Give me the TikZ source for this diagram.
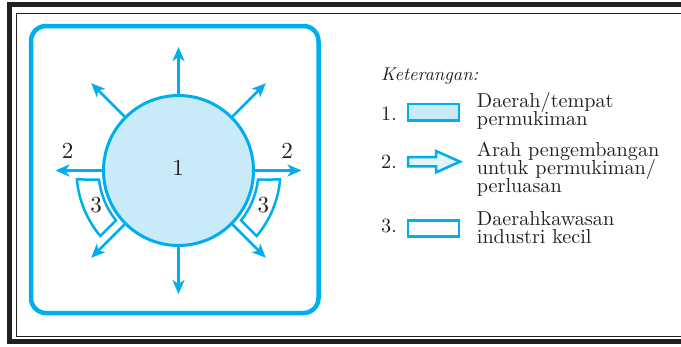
\documentclass[tikz,border=0pt]{standalone}
\usepackage{fontspec}
\setmainfont{lmroman10-regular}[Extension=.otf, ItalicFont=lmroman10-italic, BoldFont=lmroman10-bold]
\usetikzlibrary{arrows.meta}
\definecolor{cy}{HTML}{00AEEF}
\definecolor{cfill}{HTML}{C8EAF9}
\definecolor{afill}{HTML}{E2F4FC}
\definecolor{ink}{HTML}{231F20}
\begin{document}
\begin{tikzpicture}[x=1pt,y=-1pt,
  growarrow/.style={cy, line width=2.5pt, -{Stealth[length=14pt,width=12pt,inset=4pt]}},
  sector/.style={draw=cy, fill=white, line width=2.5pt},
  legbox/.style={draw=cy, line width=2.5pt},
  bignum/.style={text=ink, font=\fontsize{23}{23}\selectfont, inner sep=0pt},
  legtext/.style={text=ink, anchor=base west, inner sep=0pt, font=\fontsize{20.2}{20.2}\selectfont}]
\useasboundingbox (0,0) rectangle (681,346);
\clip (0,0) rectangle (681,346);
% frame
\draw[ink, line width=4.8pt] (9.7,4.2) rectangle (720,341.8);
\draw[ink, line width=1.5pt] (16.3,13.7) rectangle (720,336.3);
% blue rounded box
\draw[cy, line width=4.5pt, rounded corners=15pt] (31,26) rectangle (318.5,313);
% settlement circle
\node[circle, draw=cy, fill=cfill, line width=3pt, minimum size=150pt, inner sep=0pt] (c) at (178.5,170.5) {};
\node[bignum] (l1) at (178,168) {1};
% arrow tips
\coordinate (tN) at (178.5,47);
\coordinate (tS) at (178.5,294);
\coordinate (tW) at (55.5,170.5);
\coordinate (tE) at (301.5,170.5);
\coordinate (tNE) at (265.8,83.2);
\coordinate (tNW) at (91.2,83.2);
\coordinate (tSE) at (265.8,257.8);
\coordinate (tSW) at (91.2,257.8);
\draw[growarrow] (c.north) -- (tN);
\draw[growarrow] (c.south) -- (tS);
\draw[growarrow] (c.west) -- (tW);
\draw[growarrow] (c.east) -- (tE);
\draw[growarrow] (c.45) -- (tNE);
\draw[growarrow] (c.135) -- (tNW);
\draw[growarrow] (c.-45) -- (tSE);
\draw[growarrow] (c.-135) -- (tSW);
% industrial sectors
\begin{scope}[shift={(178.5,170.5)}]
  \draw[sector] (6.46:80) arc[start angle=6.46, end angle=38.56, radius=80]
    -- (39.95:102) arc[start angle=39.95, end angle=5.06, radius=102] -- cycle;
  \draw[sector] (173.54:80) arc[start angle=173.54, end angle=141.44, radius=80]
    -- (140.05:102) arc[start angle=140.05, end angle=174.94, radius=102] -- cycle;
\end{scope}
\node[bignum] (l2a) at (67.5,151) {2};
\node[bignum] (l2b) at (287,151) {2};
\node[bignum] (l3a) at (96,205) {3};
\node[bignum] (l3b) at (263.3,205) {3};
% legend
\node[legtext, font=\fontsize{18.5}{18.5}\selectfont\itshape] (ket) at (381,80.5) {Keterangan:};
\node[legtext] (n1) at (381,120.7) {1.};
\node[legtext] (n2) at (381,168.3) {2.};
\node[legtext] (n3) at (381,232.7) {3.};
\draw[legbox, fill=cfill] (408,104) rectangle (459,120.5);
\draw[legbox, fill=afill] (408,157) -- (436,157) -- (436,151) -- (460,161.7) -- (436,172.4) -- (436,166.4) -- (408,166.4) -- cycle;
\draw[legbox, fill=white] (408,220.3) rectangle (459,236.7);
\node[legtext] (t1a) at (476.7,107.2) {Daerah/tempat};
\node[legtext] (t1b) at (476.7,125.5) {permukiman};
\node[legtext] (t2a) at (476.7,156) {Arah pengembangan};
\node[legtext] (t2b) at (476.7,174.3) {untuk permukiman/};
\node[legtext] (t2c) at (476.7,192.6) {perluasan};
\node[legtext] (t3a) at (476.7,225.5) {Daerahkawasan};
\node[legtext] (t3b) at (476.7,243.8) {industri kecil};
\end{tikzpicture}
\end{document}
